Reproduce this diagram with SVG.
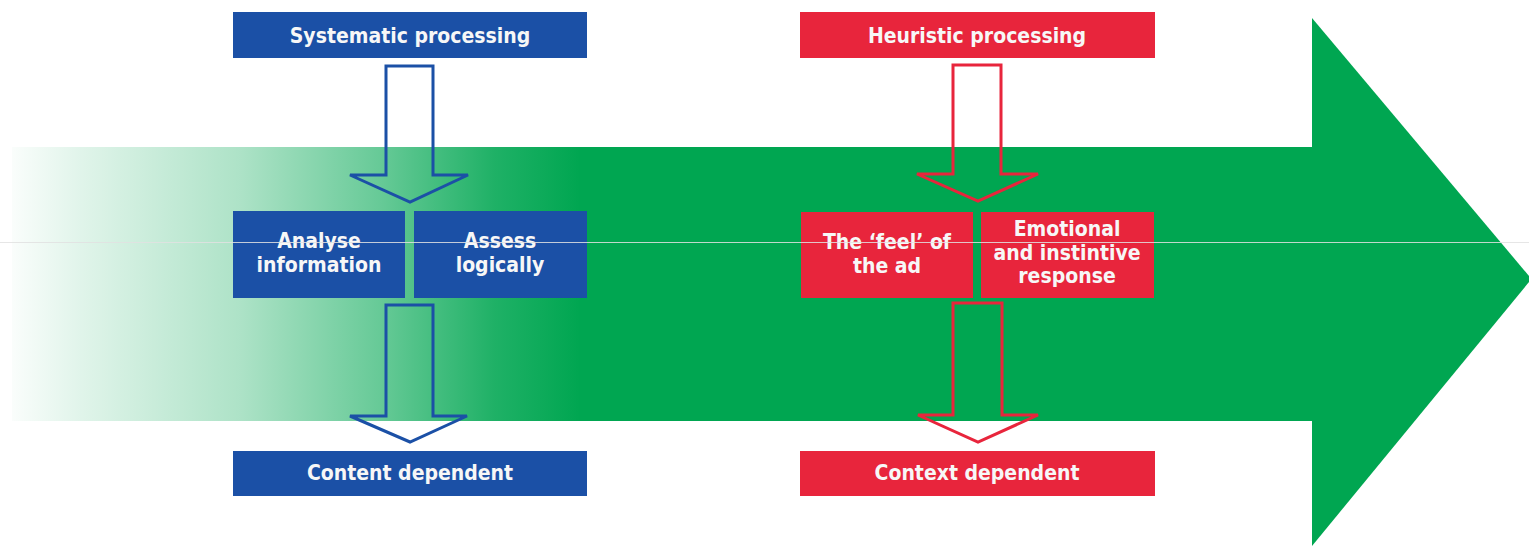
<svg xmlns="http://www.w3.org/2000/svg" width="1529" height="547" viewBox="0 0 1529 547">
<style>
.blue{fill:#1B50A6}
.red{fill:#E8253C}
.t{font-family:"DejaVu Sans Condensed","DejaVu Sans",sans-serif;font-stretch:condensed;font-weight:bold;font-size:21px;fill:#F7F7F7;text-anchor:middle}
.ab{fill:none;stroke:#1B50A6;stroke-width:3;stroke-linejoin:miter}
.ar{fill:none;stroke:#E8253C;stroke-width:3;stroke-linejoin:miter}
</style>
<defs>
<linearGradient id="g" gradientUnits="userSpaceOnUse" x1="12" y1="0" x2="580" y2="0">
<stop offset="0" stop-color="#00A651" stop-opacity="0.02"/>
<stop offset="0.12" stop-color="#00A651" stop-opacity="0.12"/>
<stop offset="0.4" stop-color="#00A651" stop-opacity="0.32"/>
<stop offset="0.65" stop-color="#00A651" stop-opacity="0.6"/>
<stop offset="0.85" stop-color="#00A651" stop-opacity="0.88"/>
<stop offset="1" stop-color="#00A651" stop-opacity="1"/>
</linearGradient>
</defs>
<rect width="1529" height="547" fill="#FFFFFF"/>
<g id="background-arrow">
<rect x="12" y="147" width="1302" height="274" fill="url(#g)"/>
<rect x="579" y="147" width="735" height="274" fill="#00A651"/>
<polygon points="1312,18 1529,276 1529,282 1312,546" fill="#00A651"/>
</g>
<g id="connectors">
<polygon class="ab" points="386,66 433,66 433,175 468,175 410,202 350,175 386,175"/>
<polygon class="ab" points="386,305 433,305 433,416 467,416 410,442 350,416 386,416"/>
<polygon class="ar" points="953,65 1001,65 1001,174 1038,174 978,201 917,174 953,174"/>
<polygon class="ar" points="953,303 1002,303 1002,415 1038,415 978,442 918,415 953,415"/>
</g>
<g id="systematic-processing">
<rect class="blue" x="233" y="12" width="354" height="46"/>
<text class="t" x="410" y="43">Systematic processing</text>
</g>
<g id="analyse-information">
<rect class="blue" x="233" y="211" width="172" height="87"/>
<text class="t" x="319" y="248">Analyse</text>
<text class="t" x="319" y="272">information</text>
</g>
<g id="assess-logically">
<rect class="blue" x="414" y="211" width="173" height="87"/>
<text class="t" x="500" y="248">Assess</text>
<text class="t" x="500" y="272">logically</text>
</g>
<g id="content-dependent">
<rect class="blue" x="233" y="451" width="354" height="45"/>
<text class="t" x="410" y="480">Content dependent</text>
</g>
<g id="heuristic-processing">
<rect class="red" x="800" y="12" width="355" height="46"/>
<text class="t" x="977" y="43">Heuristic processing</text>
</g>
<g id="feel-of-the-ad">
<rect class="red" x="801" y="212" width="172" height="86"/>
<text class="t" x="887" y="249">The ‘feel’ of</text>
<text class="t" x="887" y="273">the ad</text>
</g>
<g id="emotional-response">
<rect class="red" x="981" y="212" width="173" height="86"/>
<text class="t" x="1067" y="236">Emotional</text>
<text class="t" x="1067" y="260">and instintive</text>
<text class="t" x="1067" y="283">response</text>
</g>
<g id="context-dependent">
<rect class="red" x="800" y="451" width="355" height="45"/>
<text class="t" x="977" y="480">Context dependent</text>
</g>
<line x1="0" y1="242.5" x2="1529" y2="242.5" stroke="#E2E2E2" stroke-width="1" opacity="0.85"/>
</svg>
